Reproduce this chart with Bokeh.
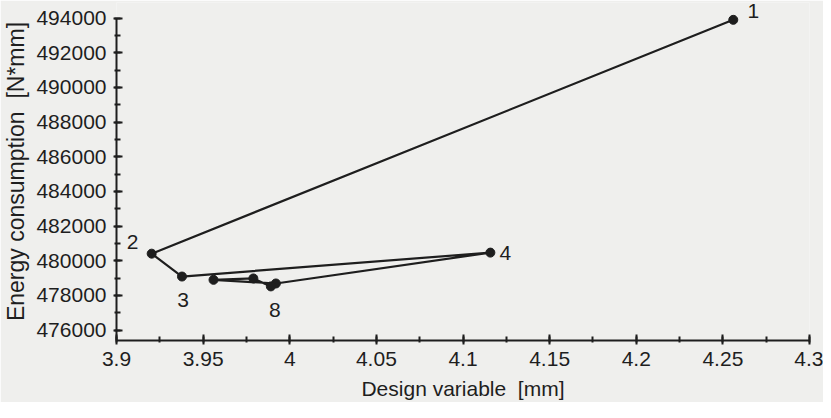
from bokeh.plotting import figure
from bokeh.models import Range1d, SingleIntervalTicker, ColumnDataSource, LabelSet
from bokeh.core.properties import value
from bokeh.embed import file_html
from bokeh.resources import INLINE

# ---- data ----
design_variable = [4.256, 3.9203, 3.9378, 4.1158, 3.9920, 3.9560, 3.9790, 3.9891]
energy = [493900, 480410, 479090, 480470, 478690, 478900, 478980, 478520]
iteration = ["1", "2", "3", "4", "5", "6", "7", "8"]
labelled = ["1", "2", "3", "4", "8"]

x_ticks = [3.9, 3.95, 4.0, 4.05, 4.1, 4.15, 4.2, 4.25, 4.3]
y_ticks = [476000, 478000, 480000, 482000, 484000, 486000, 488000, 490000, 492000, 494000]
x_lim = (3.9, 4.3)
y_lim = (475400, 494000)

# label placement (screen px, y up) for the annotated iterations
label_dx = {"1": 20, "2": -19, "3": 1, "4": 15, "8": 4}
label_dy = {"1": 9, "2": 12, "3": -23, "4": 0, "8": -24}

FONT = "Liberation Sans"
INK = "#1e1e1e"
BG = "#efefed"

p = figure(width=823, height=402, output_backend="svg", toolbar_location=None,
           x_range=Range1d(x_lim[0], x_lim[1]),
           y_range=Range1d(y_lim[0], 494900),
           min_border_left=114, min_border_right=14, min_border_top=2,
           min_border_bottom=60)
p.background_fill_color = BG
p.border_fill_color = BG
p.outline_line_color = None
p.grid.visible = False

p.line(design_variable, energy, line_color=INK, line_width=2.2)
p.scatter(design_variable, energy, size=9, fill_color=INK, line_color=INK)

idx = [iteration.index(k) for k in labelled]
src = ColumnDataSource(dict(
    x=[design_variable[i] for i in idx],
    y=[energy[i] for i in idx],
    t=labelled,
    dx=[label_dx[k] for k in labelled],
    dy=[label_dy[k] for k in labelled],
))
labels = LabelSet(x="x", y="y", text="t", x_offset="dx", y_offset="dy", source=src,
                  text_font=value(FONT), text_font_size="21px", text_color=INK,
                  text_align="center", text_baseline="middle")
p.add_layout(labels)

for ax in (p.xaxis[0], p.yaxis[0]):
    ax.axis_line_color = INK
    ax.axis_line_width = 2
    ax.major_tick_line_color = INK
    ax.major_tick_line_width = 2
    ax.minor_tick_line_color = INK
    ax.minor_tick_line_width = 2
    ax.major_tick_in = 6
    ax.minor_tick_in = 4
    ax.minor_tick_out = 2
    ax.major_label_text_font = FONT
    ax.major_label_text_font_size = "21px"
    ax.major_label_text_color = INK
    ax.axis_label_text_font = FONT
    ax.axis_label_text_font_style = "normal"
    ax.axis_label_text_color = INK

p.xaxis.ticker = SingleIntervalTicker(interval=0.05, num_minor_ticks=2)
p.xaxis.major_label_overrides = {t: f"{t:g}" for t in x_ticks}
p.xaxis.axis_label = "Design variable\u00a0\u00a0[mm]"
p.xaxis.axis_label_text_font_size = "21px"
p.xaxis.axis_label_text_line_height = 0.5
p.xaxis.major_tick_out = 4
p.xaxis.major_label_standoff = 7
p.xaxis.axis_label_standoff = 8
p.xaxis.bounds = x_lim

p.yaxis.ticker = SingleIntervalTicker(interval=2000, num_minor_ticks=2)
p.yaxis.major_label_overrides = {t: str(t) for t in y_ticks}
p.yaxis.axis_label = "Energy consumption\u00a0\u00a0[N*mm]"
p.yaxis.axis_label_text_font_size = "23px"
p.yaxis.major_tick_out = 3
p.yaxis.major_label_standoff = 7
p.yaxis.axis_label_standoff = 4
p.yaxis.bounds = y_lim

open("out.html", "w").write(file_html(p, INLINE))
